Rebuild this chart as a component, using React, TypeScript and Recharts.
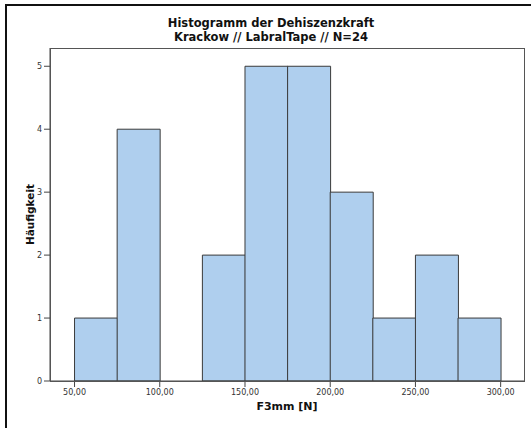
import React from 'react';
import {
  ComposedChart,
  Bar,
  XAxis,
  YAxis,
  Label,
} from 'recharts';

// bin edges (F3mm [N]) and counts
const binStart = [50, 75, 100, 125, 150, 175, 200, 225, 250, 275];
const binWidth = 25;
const counts = [1, 4, 0, 2, 5, 5, 3, 1, 2, 1];
const xTicks = [50, 100, 150, 200, 250, 300];
const yTicks = [0, 1, 2, 3, 4, 5];

const data = binStart.map((lo, i) => ({ mid: lo + binWidth / 2, count: counts[i] }));

const fmtDe = (v: number) => v.toFixed(2).replace('.', ',');

const FONT = '"DejaVu Sans", Verdana, sans-serif';

export default function App() {
  return (
    <div style={s.page}>
      <div style={s.frame} />
      <div style={{ ...s.title, top: 17.25 }}>Histogramm der Dehiszenzkraft</div>
      <div style={{ ...s.title, top: 30.75 }}>Krackow // LabralTape // N=24</div>
      <div style={s.chart}>
        <ComposedChart
          width={531}
          height={428}
          data={data}
          barCategoryGap={0}
          barGap={0}
          margin={{ top: 48, right: 7, left: 0, bottom: 0 }}
        >
          <XAxis
            dataKey="mid"
            type="number"
            domain={[35.6, 313.7]}
            ticks={xTicks}
            tickFormatter={fmtDe}
            height={47}
            stroke="#444"
            tickSize={6}
            tick={{ fontSize: 8, fill: '#333', fontFamily: FONT }}
            interval={0}
            allowDataOverflow
          >
            <Label
              value="F3mm [N]"
              position="insideBottom"
              offset={18}
              style={{ fontSize: 11, fontWeight: 'bold', fill: '#111', fontFamily: FONT }}
            />
          </XAxis>
          <YAxis
            type="number"
            domain={[0, 5.29]}
            ticks={yTicks}
            width={50}
            stroke="#444"
            tickSize={6}
            tick={{ fontSize: 8, fill: '#333', fontFamily: FONT }}
            interval={0}
            allowDataOverflow
          >
            <Label
              value="Häufigkeit"
              position="insideLeft"
              angle={-90}
              offset={30}
              style={{ fontSize: 10.5, fontWeight: 'bold', fill: '#111', fontFamily: FONT, textAnchor: 'middle' }}
            />
          </YAxis>
          <Bar
            dataKey="count"
            fill="#AFCFEE"
            stroke="#3a3a3a"
            strokeWidth={1}
            isAnimationActive={false}
          />
        </ComposedChart>
      </div>
      <div style={s.plotBox} />
    </div>
  );
}

const s: Record<string, React.CSSProperties> = {
  page: {
    position: 'fixed',
    left: 0,
    top: 0,
    width: 531,
    height: 428,
    background: '#FFFFFF',
    overflow: 'hidden',
  },
  frame: {
    position: 'absolute',
    left: 5,
    top: 4,
    width: 560,
    height: 460,
    border: '2px solid #111',
  },
  title: {
    position: 'absolute',
    left: 34,
    width: 474,
    textAlign: 'center',
    fontFamily: FONT,
    fontWeight: 'bold',
    fontSize: 11.5,
    lineHeight: '13.5px',
    color: '#111',
  },
  chart: {
    position: 'absolute',
    left: 0,
    top: 0,
  },
  plotBox: {
    position: 'absolute',
    left: 50,
    top: 48,
    width: 475,
    height: 334,
    boxSizing: 'border-box',
    border: '1px solid #555',
    pointerEvents: 'none',
  },
};
